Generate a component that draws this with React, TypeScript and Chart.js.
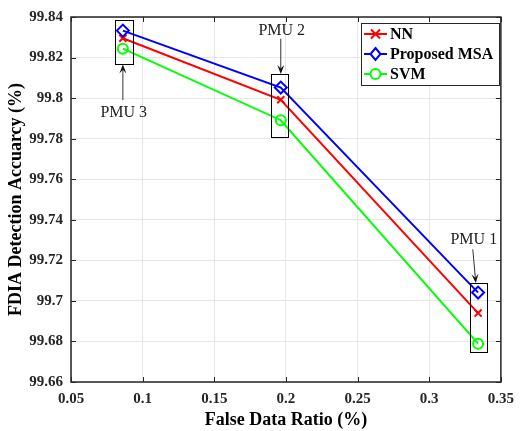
import React, { useEffect, useRef } from "react";
import { Chart, registerables } from "chart.js";

Chart.register(...registerables);

// ---- data ----
const falseDataRatio = [0.0862, 0.1964, 0.3341];
const nnAccuracy = [99.8295, 99.7992, 99.694];
const msaAccuracy = [99.8333, 99.8052, 99.7041];
const svmAccuracy = [99.8244, 99.7891, 99.6789];
const seriesNames = ["NN", "Proposed MSA", "SVM"];
const seriesColors = ["#ff0000", "#0000ff", "#00ff00"];
const xTicks = [0.05, 0.1, 0.15, 0.2, 0.25, 0.3, 0.35];
const yTicks = [99.66, 99.68, 99.7, 99.72, 99.74, 99.76, 99.78, 99.8, 99.82, 99.84];

// annotation boxes (data coordinates)
const pmuLabels = ["PMU 3", "PMU 2", "PMU 1"];
const boxX0 = [0.0806, 0.1895, 0.3282];
const boxX1 = [0.0929, 0.2016, 0.3402];
const boxY0 = [99.8169, 99.7806, 99.6746];
const boxY1 = [99.8385, 99.8119, 99.7088];
const labelX = [0.0868, 0.1971, 0.3311];
const labelY = [99.7927, 99.8332, 99.7302];
const arrowFromX = [0.0862, 0.1964, 0.3304];
const arrowFromY = [99.7990, 99.8293, 99.7254];
const arrowToX = [0.0862, 0.1964, 0.3325];
const arrowToY = [99.8166, 99.8119, 99.7088];

const SERIF = "'Liberation Serif', 'Times New Roman', serif";

const fmt = (v: number) => String(parseFloat(Number(v).toFixed(2)));

const decorPlugin = {
  id: "decor",
  afterDatasetsDraw(chart: any) {
    const ctx = chart.ctx as CanvasRenderingContext2D;
    const xs = chart.scales.x;
    const ys = chart.scales.y;
    const { left, right, top, bottom } = chart.chartArea;
    ctx.save();
    // annotations
    ctx.strokeStyle = "#000";
    ctx.lineWidth = 1;
    for (let i = 0; i < pmuLabels.length; i++) {
      const x0 = xs.getPixelForValue(boxX0[i]);
      const x1 = xs.getPixelForValue(boxX1[i]);
      const y0 = ys.getPixelForValue(boxY0[i]);
      const y1 = ys.getPixelForValue(boxY1[i]);
      ctx.strokeStyle = "#000";
      ctx.strokeRect(Math.round(x0) + 0.5, Math.round(y1) + 0.5, Math.round(x1 - x0), Math.round(y0 - y1));
      // arrow
      const ax0 = xs.getPixelForValue(arrowFromX[i]);
      const ay0 = ys.getPixelForValue(arrowFromY[i]);
      const ax1 = xs.getPixelForValue(arrowToX[i]);
      const ay1 = ys.getPixelForValue(arrowToY[i]);
      const ang = Math.atan2(ay1 - ay0, ax1 - ax0);
      const hl = 9;
      const hw = 3.5;
      ctx.strokeStyle = "#333";
      ctx.beginPath();
      ctx.moveTo(ax0, ay0);
      ctx.lineTo(ax1 - Math.cos(ang) * hl * 0.6, ay1 - Math.sin(ang) * hl * 0.6);
      ctx.stroke();
      ctx.fillStyle = "#111";
      ctx.beginPath();
      ctx.moveTo(ax1, ay1);
      ctx.lineTo(ax1 - Math.cos(ang) * hl - Math.sin(ang) * hw, ay1 - Math.sin(ang) * hl + Math.cos(ang) * hw);
      ctx.lineTo(ax1 - Math.cos(ang) * hl * 0.6, ay1 - Math.sin(ang) * hl * 0.6);
      ctx.lineTo(ax1 - Math.cos(ang) * hl + Math.sin(ang) * hw, ay1 - Math.sin(ang) * hl - Math.cos(ang) * hw);
      ctx.closePath();
      ctx.fill();
      // label
      ctx.fillStyle = "#222";
      ctx.font = `16px ${SERIF}`;
      ctx.textAlign = "center";
      ctx.textBaseline = "middle";
      ctx.fillText(pmuLabels[i], xs.getPixelForValue(labelX[i]), ys.getPixelForValue(labelY[i]));
    }

    // frame
    ctx.strokeStyle = "#262626";
    ctx.lineWidth = 1.5;
    ctx.strokeRect(left, top, right - left, bottom - top);
    // inward ticks
    const tl = 5;
    ctx.lineWidth = 1;
    ctx.beginPath();
    for (const v of xTicks) {
      const px = Math.round(xs.getPixelForValue(v)) + 0.5;
      ctx.moveTo(px, bottom);
      ctx.lineTo(px, bottom - tl);
      ctx.moveTo(px, top);
      ctx.lineTo(px, top + tl);
    }
    for (const v of yTicks) {
      const py = Math.round(ys.getPixelForValue(v)) + 0.5;
      ctx.moveTo(left, py);
      ctx.lineTo(left + tl, py);
      ctx.moveTo(right, py);
      ctx.lineTo(right - tl, py);
    }
    ctx.stroke();

    // legend
    const lx = 361, ly = 23, lw = 138, lh = 62;
    ctx.fillStyle = "#fff";
    ctx.fillRect(lx, ly, lw, lh);
    ctx.strokeStyle = "#262626";
    ctx.lineWidth = 1;
    ctx.strokeRect(lx + 0.5, ly + 0.5, lw, lh);
    for (let i = 0; i < seriesNames.length; i++) {
      const cy = ly + 11 + i * 20;
      const c = seriesColors[i];
      ctx.strokeStyle = c;
      ctx.lineWidth = 2;
      ctx.beginPath();
      ctx.moveTo(lx + 3, cy);
      ctx.lineTo(lx + 26, cy);
      ctx.stroke();
      const mx = lx + 14.5;
      ctx.beginPath();
      if (i === 0) {
        ctx.moveTo(mx - 4.5, cy - 4.5);
        ctx.lineTo(mx + 4.5, cy + 4.5);
        ctx.moveTo(mx + 4.5, cy - 4.5);
        ctx.lineTo(mx - 4.5, cy + 4.5);
      } else if (i === 1) {
        ctx.moveTo(mx, cy - 6);
        ctx.lineTo(mx + 5, cy);
        ctx.lineTo(mx, cy + 6);
        ctx.lineTo(mx - 5, cy);
        ctx.closePath();
        ctx.fillStyle = "#fff";
        ctx.fill();
      } else {
        ctx.arc(mx, cy, 5, 0, Math.PI * 2);
        ctx.fillStyle = "#fff";
        ctx.fill();
      }
      ctx.stroke();
      ctx.fillStyle = "#000";
      ctx.font = `bold 16px ${SERIF}`;
      ctx.textAlign = "left";
      ctx.textBaseline = "middle";
      ctx.fillText(seriesNames[i], lx + 29, cy + 1);
    }

    // axis titles
    ctx.fillStyle = "#000";
    ctx.font = `bold 18px ${SERIF}`;
    ctx.textAlign = "center";
    ctx.textBaseline = "middle";
    ctx.fillText("False Data Ratio (%)", (left + right) / 2, 420);
    ctx.save();
    ctx.translate(16, (top + bottom) / 2);
    ctx.rotate(-Math.PI / 2);
    ctx.fillText("FDIA Detection Accuarcy (%)", 0, 0);
    ctx.restore();
    ctx.restore();
  },
};

export default function App() {
  const ref = useRef<HTMLCanvasElement | null>(null);
  useEffect(() => {
    if (!ref.current) return;
    const mk = (vals: number[]) => falseDataRatio.map((x, i) => ({ x, y: vals[i] }));
    const chart = new Chart(ref.current, {
      type: "line",
      data: {
        datasets: [
          {
            label: seriesNames[0],
            data: mk(nnAccuracy),
            borderColor: seriesColors[0],
            backgroundColor: seriesColors[0],
            borderWidth: 2,
            pointStyle: "crossRot",
            pointRadius: 5,
            pointBorderWidth: 2,
            order: 3,
          },
          {
            label: seriesNames[1],
            data: mk(msaAccuracy),
            borderColor: seriesColors[1],
            backgroundColor: "rgba(255,255,255,0)",
            borderWidth: 2,
            pointStyle: "rectRot",
            pointRadius: 6,
            pointBorderWidth: 2,
            order: 2,
          },
          {
            label: seriesNames[2],
            data: mk(svmAccuracy),
            borderColor: seriesColors[2],
            backgroundColor: "rgba(255,255,255,0)",
            borderWidth: 2,
            pointStyle: "circle",
            pointRadius: 5,
            pointBorderWidth: 2,
            order: 1,
          },
        ],
      },
      options: {
        animation: false,
        responsive: false,
        maintainAspectRatio: false,
        layout: { padding: { left: 0, right: 12, top: 13, bottom: 0 } },
        plugins: { legend: { display: false }, tooltip: { enabled: false } },
        scales: {
          x: {
            type: "linear",
            min: 0.05,
            max: 0.35,
            afterBuildTicks: (s: any) => {
              s.ticks = xTicks.map((v) => ({ value: v }));
            },
            afterFit: (s: any) => {
              s.height = 49;
            },
            grid: { color: "#e6e6e6", drawTicks: false },
            border: { display: false },
            ticks: {
              padding: 8,
              color: "#262626",
              font: { family: SERIF, size: 15, weight: "bold" },
              callback: (v: any) => fmt(v),
            },
          },
          y: {
            type: "linear",
            min: 99.66,
            max: 99.84,
            afterBuildTicks: (s: any) => {
              s.ticks = yTicks.map((v) => ({ value: v }));
            },
            afterFit: (s: any) => {
              s.width = 71;
            },
            grid: { color: "#e6e6e6", drawTicks: false },
            border: { display: false },
            ticks: {
              padding: 8,
              color: "#262626",
              font: { family: SERIF, size: 15, weight: "bold" },
              callback: (v: any) => fmt(v),
            },
          },
        },
      },
      plugins: [decorPlugin],
    } as any);
    return () => chart.destroy();
  }, []);
  return (
    <div style={{ position: "fixed", left: 0, top: 0, width: 522, height: 431, background: "#fff" }}>
      <canvas ref={ref} width={522} height={431} style={{ width: 522, height: 431 }} />
    </div>
  );
}
